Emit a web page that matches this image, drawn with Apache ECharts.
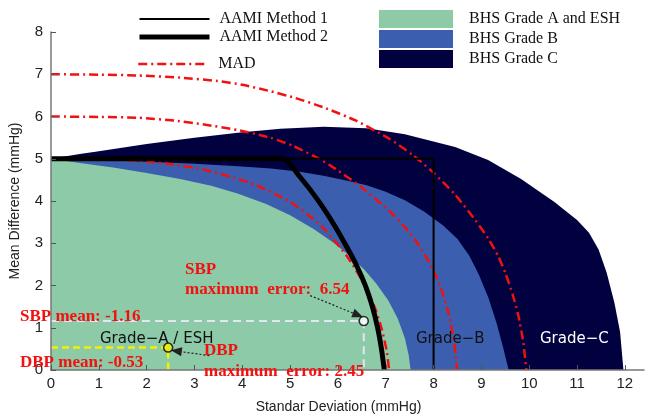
<!DOCTYPE html>
<html>
<head>
<meta charset="utf-8">
<script src="https://cdn.jsdelivr.net/npm/echarts@6/dist/echarts.min.js"></script>
<style>
  html, body { margin: 0; padding: 0; background: #fff; }
  #chart { width: 647px; height: 419px; }
</style>
</head>
<body>
<div id="chart"></div>
<script>
// region boundaries: [standard deviation, mean difference]
const gradeCTop = [[0, 5], [0.6, 5.11], [1.0, 5.18], [2.0, 5.35], [3.0, 5.5], [4.0, 5.63], [4.8, 5.71],
  [5.7, 5.76], [6.6, 5.72], [7.4, 5.58], [8.45, 5.28], [9.14, 4.97], [9.83, 4.52], [10.52, 3.98],
  [11.0, 3.55], [11.25, 3.25], [11.45, 2.85], [11.62, 2.3], [11.78, 1.6], [11.9, 0.9], [11.97, 0]];
const gradeBTop = [[0, 5], [1, 4.97], [2, 4.93], [3, 4.88], [3.83, 4.83], [4.6, 4.77], [5.2, 4.69],
  [5.7, 4.6], [6.2, 4.48], [6.6, 4.37], [7.0, 4.22], [7.4, 4.02], [7.8, 3.75], [8.2, 3.42], [8.5, 3.1],
  [8.75, 2.7], [8.95, 2.25], [9.15, 1.7], [9.32, 1.1], [9.45, 0.55], [9.57, 0]];
const gradeATop = [[0, 5], [0.6, 4.9], [1.3, 4.79], [2, 4.66], [2.7, 4.52], [3.35, 4.36], [3.9, 4.18],
  [4.5, 3.93], [5.0, 3.66], [5.5, 3.33], [5.9, 3.02], [6.25, 2.7], [6.55, 2.38], [6.8, 2.05],
  [7.05, 1.65], [7.25, 1.22], [7.4, 0.75], [7.48, 0.35], [7.52, 0]];

const aami1 = [[0, 5], [8, 5], [8, 0]];
const aami2 = [[0, 5], [4.85, 5], [5.2, 4.58], [5.6, 3.99], [5.95, 3.38], [6.2, 2.88], [6.4, 2.45],
  [6.58, 1.98], [6.72, 1.5], [6.83, 1.0], [6.91, 0.5], [6.97, 0]];

const mad5 = [[0, 5], [1.0, 4.99], [1.83, 4.95], [2.6, 4.86], [3.2, 4.74], [3.83, 4.55], [4.3, 4.37],
  [4.66, 4.18], [5.0, 3.98], [5.35, 3.7], [5.65, 3.41], [5.9, 3.1], [6.17, 2.72], [6.38, 2.36],
  [6.6, 1.92], [6.78, 1.45], [6.92, 0.95], [7.02, 0.45], [7.07, 0]];
const mad6 = [[0, 6], [1.0, 5.99], [1.83, 5.97], [2.6, 5.9], [3.2, 5.81], [3.9, 5.68], [4.58, 5.5],
  [5.07, 5.3], [5.5, 5.06], [5.83, 4.85], [6.45, 4.36], [7.07, 3.77], [7.4, 3.38], [7.62, 3.07],
  [7.82, 2.72], [7.98, 2.4], [8.15, 1.95], [8.3, 1.4], [8.4, 0.85], [8.46, 0.4], [8.49, 0]];
const mad7 = [[0, 7], [1.0, 6.99], [1.83, 6.97], [2.7, 6.92], [3.48, 6.84], [4.0, 6.75], [4.58, 6.6],
  [5.1, 6.44], [5.69, 6.22], [6.38, 5.9], [7.08, 5.47], [7.55, 5.1], [7.97, 4.7], [8.45, 4.15],
  [8.87, 3.55], [9.15, 3.1], [9.35, 2.7], [9.5, 2.3], [9.65, 1.8], [9.77, 1.3], [9.87, 0.7], [9.94, 0]];

// results
const sbpMean = 1.16, sbpMaxErr = 6.54;
const dbpMean = 0.53, dbpMaxErr = 2.45;
const sbpGuide = [[0, sbpMean], [sbpMaxErr, sbpMean], [sbpMaxErr, 0]];
const dbpGuide = [[0, dbpMean], [dbpMaxErr, dbpMean], [dbpMaxErr, 0]];
const sbpArrow = [[5.42, 1.76], [6.42, 1.3]];
const dbpArrow = [[3.31, 0.34], [2.62, 0.45]];

const xTicks = [0, 1, 2, 3, 4, 5, 6, 7, 8, 9, 10, 11, 12];

const red = '#f21111';
const serif = 'Liberation Serif';

function area(name, data, color) {
  return {
    name: name, type: 'line', data: data, symbol: 'none',
    itemStyle: {color: color}, lineStyle: {width: 0}, areaStyle: {color: color, opacity: 1},
    silent: true, z: 1
  };
}
function mad(data) {
  return {
    name: 'MAD', type: 'line', data: data, symbol: 'none', smooth: 0.2,
    itemStyle: {color: red}, lineStyle: {color: red, width: 2.5, type: [9, 4, 2, 4]}, z: 3
  };
}
function label(text, left, top, color, font) {
  return {
    type: 'text', left: left, top: top,
    style: {text: text, fill: color, font: font}, z: 100
  };
}
const redFont = 'bold 17px "Liberation Serif"';
const gradeFont = '15px "DejaVu Sans"';
const legendText = {fontFamily: serif, fontSize: 16, color: '#111', padding: [0, 0, 0, 5]};

const myChart = echarts.init(document.getElementById('chart'));
myChart.setOption({
  animation: false,
  grid: {left: 45, right: 3, top: 32, bottom: 41},
  legend: [
    {
      data: ['AAMI Method 1', 'AAMI Method 2'], orient: 'vertical', left: 137, top: 11, padding: 0,
      itemWidth: 70, itemHeight: 12, itemGap: 2, selectedMode: false,
      itemStyle: {opacity: 0}, lineStyle: {width: 'inherit'},
      textStyle: legendText
    },
    {
      data: ['MAD'], left: 137, top: 56, padding: 0, itemWidth: 70, itemHeight: 12, selectedMode: false,
      itemStyle: {opacity: 0}, lineStyle: {width: 'inherit'},
      textStyle: legendText
    },
    {
      data: [{name: 'BHS Grade A and ESH', icon: 'rect'}, {name: 'BHS Grade B', icon: 'rect'},
        {name: 'BHS Grade C', icon: 'rect'}],
      orient: 'vertical', left: 379, top: 10, padding: 0, itemWidth: 74, itemHeight: 18, itemGap: 2,
      selectedMode: false,
      textStyle: {fontFamily: serif, fontSize: 16, color: '#111', padding: [0, 0, 0, 11]}
    }
  ],
  xAxis: {
    type: 'value', min: 0, max: 12.4, z: 10,
    name: 'Standar Deviation (mmHg)', nameLocation: 'middle', nameGap: 30,
    nameTextStyle: {fontFamily: 'Liberation Sans', fontSize: 14, color: '#222', padding: [0, 18, 0, 0]},
    axisLine: {lineStyle: {color: '#777', width: 1.5}},
    axisTick: {inside: true, length: 5, customValues: xTicks, lineStyle: {color: '#555'}},
    axisLabel: {customValues: xTicks, fontFamily: 'Liberation Sans', fontSize: 15, color: '#222', margin: 6},
    splitLine: {show: false}
  },
  yAxis: {
    type: 'value', min: 0, max: 8, interval: 1, z: 10,
    name: 'Mean Difference (mmHg)', nameLocation: 'middle', nameGap: 29,
    nameTextStyle: {fontFamily: 'Liberation Sans', fontSize: 14, color: '#222'},
    axisLine: {show: true, lineStyle: {color: '#777', width: 1.5}},
    axisTick: {show: true, inside: true, length: 5, lineStyle: {color: '#555'}},
    axisLabel: {fontFamily: 'Liberation Sans', fontSize: 15, color: '#222', margin: 8},
    splitLine: {show: false}
  },
  series: [
    area('BHS Grade C', gradeCTop, '#02013f'),
    area('BHS Grade B', gradeBTop, '#3b5fae'),
    area('BHS Grade A and ESH', gradeATop, '#8dcaa7'),
    mad(mad5), mad(mad6), mad(mad7),
    {
      name: 'AAMI Method 1', type: 'line', data: aami1, symbol: 'none',
      itemStyle: {color: '#000'}, lineStyle: {color: '#000', width: 2}, z: 4
    },
    {
      name: 'AAMI Method 2', type: 'line', data: aami2, symbol: 'none', smooth: 0.2,
      itemStyle: {color: '#000'}, lineStyle: {color: '#000', width: 5}, z: 4
    },
    {
      name: 'sbp', type: 'line', data: sbpGuide, symbol: 'none', z: 5,
      lineStyle: {color: '#dfe8f2', width: 2, type: [8, 5]}
    },
    {
      name: 'dbp', type: 'line', data: dbpGuide, symbol: 'none', z: 5,
      lineStyle: {color: '#f5f000', width: 2.5, type: [7, 4]}
    },
    {
      name: 'arrows', type: 'line', data: [], z: 6,
      markLine: {
        silent: true, symbol: ['none', 'triangle'], symbolSize: [9, 11],
        label: {show: false},
        lineStyle: {color: '#222', width: 1.2, type: [2, 2]},
        data: [
          [{coord: sbpArrow[0]}, {coord: sbpArrow[1]}],
          [{coord: dbpArrow[0]}, {coord: dbpArrow[1]}]
        ]
      }
    },
    {
      name: 'points', type: 'scatter', symbolSize: 9, z: 7,
      itemStyle: {borderColor: '#000', borderWidth: 1.5},
      data: [
        {value: [sbpMaxErr, sbpMean], itemStyle: {color: '#fff'}},
        {value: [dbpMaxErr, dbpMean], itemStyle: {color: '#f5f000'}}
      ]
    }
  ],
  graphic: [
    label('SBP', 185, 261, red, redFont),
    label('maximum  error:  6.54', 185, 281, red, redFont),
    label('SBP mean: -1.16', 20, 308, red, redFont),
    label('DBP', 204, 342, red, redFont),
    label('DBP mean: -0.53', 20, 354, red, redFont),
    label('maximum  error: 2.45', 204, 363, red, redFont),
    label('Grade\u2212A / ESH', 100, 332, '#111', gradeFont),
    label('Grade\u2212B', 416, 332, '#111', gradeFont),
    label('Grade\u2212C', 540, 332, '#fff', gradeFont)
  ]
});
</script>
</body>
</html>
